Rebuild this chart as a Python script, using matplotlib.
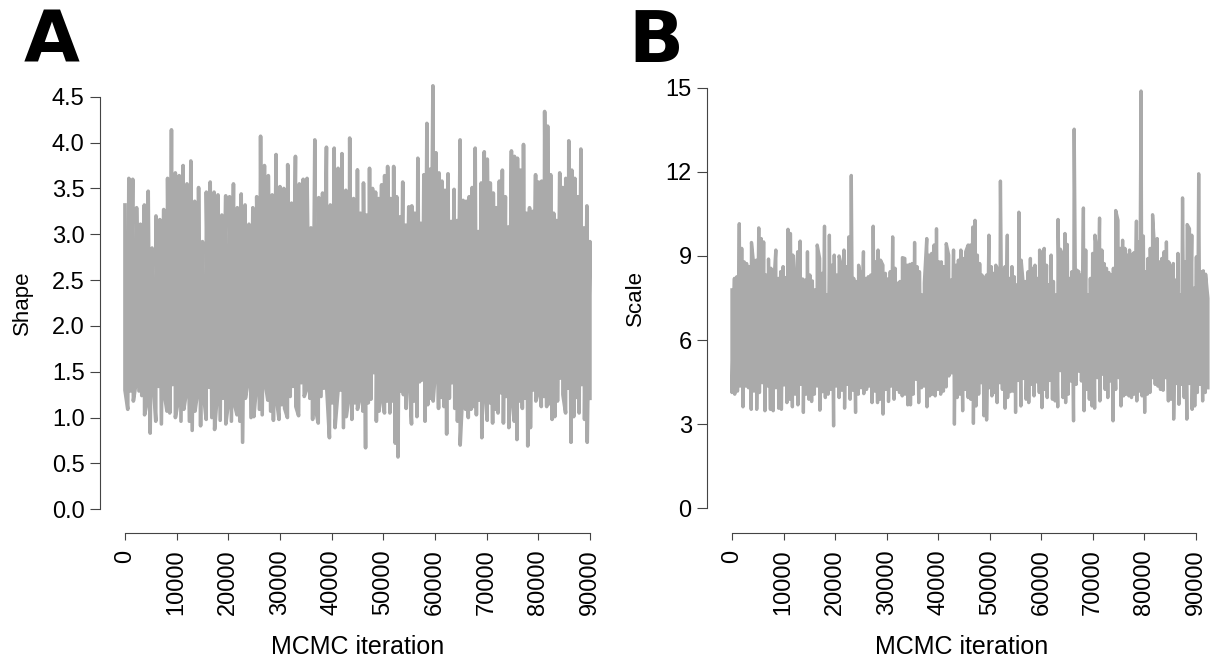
import matplotlib.pyplot as plt
import numpy as np

plt.rcParams['font.family'] = ['Liberation Sans', 'DejaVu Sans']

# Shape chain (90000 iterations): tips of the trace, first and second half
shape_top_1 = [3.32, 3.61, 3.60, 3.29, 3.11, 3.32, 3.47, 2.85, 3.20, 3.16, 3.27, 3.61, 4.14, 3.67, 3.64,
               3.75, 3.55, 3.80, 3.36, 3.51, 2.92, 3.46, 3.57, 3.46, 3.43, 3.21, 3.42, 3.41, 3.55, 3.29,
               3.44, 3.32, 3.11, 3.29, 3.41, 4.07, 3.75, 3.64, 3.43, 3.87, 3.52, 3.50, 3.76, 3.34, 3.85,
               3.55, 3.60, 3.61, 3.07, 4.03, 3.40, 3.45, 3.95, 3.32, 3.94, 3.72, 3.88, 3.48, 4.05, 3.39, 3.09]
shape_top_2 = [3.70, 3.23, 3.56, 3.21, 3.72, 3.50, 3.46, 3.39, 3.54, 3.64, 3.74, 3.39, 3.74, 3.41, 3.19,
               3.57, 3.10, 3.30, 3.31, 3.23, 3.83, 3.12, 3.65, 4.21, 3.71, 4.62, 3.89, 3.67, 3.58, 3.48,
               3.66, 3.14, 3.49, 3.15, 4.03, 3.37, 3.36, 3.41, 3.51, 3.94, 3.03, 3.56, 3.90, 3.82, 3.56,
               3.45, 3.29, 3.58, 3.70, 3.41, 3.08, 3.91, 3.85, 3.83, 3.70, 3.98, 3.23, 3.29, 3.25, 3.65,
               3.57, 3.58, 4.34, 4.18, 3.65, 3.23, 3.15, 3.67, 3.51, 3.61, 4.02, 3.70, 3.61, 3.41, 3.93,
               3.07, 3.31, 2.92]
shape_bottom_1 = [1.30, 1.09, 1.29, 1.18, 1.39, 1.29, 1.24, 1.03, 1.18, 0.83, 1.43, 0.96, 1.34, 0.93, 1.27,
                  1.07, 1.05, 1.36, 1.00, 1.18, 0.96, 1.09, 1.29, 0.96, 0.86, 1.07, 1.29, 0.91, 1.27, 0.98,
                  1.33, 1.00, 0.87, 1.27, 0.97, 1.21, 0.93, 1.18, 0.96, 1.16, 1.03, 0.96, 0.73, 1.21, 1.41,
                  1.00, 1.01, 1.36, 1.09, 1.03, 1.39, 1.19, 1.07, 0.97, 1.23, 0.98, 1.14, 1.10, 1.00, 1.23,
                  1.34, 1.12, 1.02, 1.38, 1.23, 1.32, 1.21, 0.98, 1.10, 0.94, 1.23, 1.32, 1.34, 0.78, 1.16,
                  0.89, 1.27, 1.30, 0.89, 1.01, 1.23, 0.98, 1.16, 1.12]
shape_bottom_2 = [1.09, 1.22, 1.07, 0.67, 1.16, 1.20, 1.49, 0.96, 1.07, 1.23, 1.05, 1.18, 1.05, 1.18, 0.72,
                  0.57, 1.29, 1.25, 1.10, 1.52, 0.93, 1.18, 1.01, 1.39, 1.41, 0.96, 1.14, 1.21, 1.18, 1.58,
                  1.10, 1.22, 1.12, 0.82, 1.21, 1.38, 1.10, 0.96, 0.70, 1.32, 1.09, 1.00, 1.09, 1.12, 1.03,
                  1.19, 0.78, 1.34, 0.97, 1.16, 0.94, 1.09, 1.05, 1.27, 0.94, 1.23, 0.89, 1.25, 0.96, 0.76,
                  1.18, 1.10, 1.21, 0.69, 0.89, 1.30, 1.18, 1.29, 1.12, 1.23, 1.12, 1.15, 0.98, 1.01, 1.18,
                  1.43, 1.25, 1.05, 1.32, 0.73, 1.01, 1.22, 1.05, 1.36, 0.98, 0.73, 1.21]

# Scale chain (about 92300 iterations)
scale_top_1 = [7.79, 8.20, 8.26, 10.15, 9.27, 8.79, 8.73, 8.62, 9.48, 8.62, 8.85, 10.00, 9.62, 9.50, 8.32,
               8.89, 8.56, 7.73, 9.21, 8.20, 8.44, 8.62, 8.23, 9.95, 9.80, 9.03, 7.79, 9.15, 9.53, 8.18,
               8.14, 9.15, 8.32, 8.11, 7.79, 9.39, 8.91, 8.38, 10.06, 7.61, 9.74, 8.67, 9.03, 8.32, 9.00,
               8.62, 9.21, 8.62, 9.68, 11.87, 8.20, 8.09, 8.67, 8.20, 9.15, 8.20, 8.26, 8.32, 10.06, 8.79,
               9.21, 8.85, 8.67, 8.38, 8.18, 8.44, 9.68, 8.56, 8.03, 8.09, 8.94, 8.91, 8.67, 8.70, 8.73,
               9.48, 8.62, 8.44, 7.61, 8.03, 9.62, 9.03, 9.09, 9.39, 9.97, 8.79, 8.79, 8.62, 9.44, 9.03,
               8.14, 9.21, 8.67, 8.85, 9.21, 8.91, 9.15, 9.39]
scale_top_2 = [8.79, 9.39, 10.03, 10.27, 9.03, 8.73, 8.32, 8.14, 8.32, 9.74, 8.62, 8.38, 8.67, 8.56, 11.67,
               8.32, 8.62, 9.74, 8.20, 8.62, 8.26, 7.97, 10.56, 8.85, 7.91, 8.09, 8.44, 8.91, 8.56, 8.67,
               8.20, 9.21, 9.03, 9.27, 8.67, 7.97, 9.03, 8.09, 7.61, 10.30, 9.24, 9.03, 9.80, 9.41, 8.20,
               8.44, 13.52, 8.50, 8.44, 8.32, 10.71, 9.21, 7.61, 8.20, 9.09, 9.74, 9.09, 10.35, 9.21, 8.73,
               8.56, 8.41, 8.32, 8.56, 10.62, 10.27, 9.27, 9.56, 9.27, 9.03, 9.21, 9.03, 9.12, 10.24, 9.50,
               14.88, 9.71, 8.44, 8.91, 9.27, 10.47, 9.03, 9.62, 8.79, 8.91, 9.15, 9.50, 8.79, 8.50, 8.73,
               8.14, 9.09, 7.61, 11.07, 8.79, 10.12, 9.97, 9.74, 7.85, 8.97, 11.93, 8.44, 8.47, 8.35, 7.49]
scale_bottom_1 = [4.13, 4.07, 4.18, 4.36, 3.62, 4.36, 4.30, 3.53, 4.18, 3.53, 4.13, 4.48, 3.48, 4.36, 3.53,
                  3.48, 4.30, 3.57, 3.53, 4.40, 3.77, 3.89, 3.62, 4.07, 3.69, 4.42, 3.42, 4.07, 3.89, 3.81,
                  4.07, 4.36, 3.50, 4.16, 3.95, 4.07, 4.24, 2.94, 4.36, 3.95, 4.21, 3.57, 4.42, 3.89, 4.21,
                  3.42, 4.07, 4.30, 4.09, 4.24, 4.36, 3.77, 4.18, 3.77, 3.89, 3.36, 4.24, 3.81, 4.36, 3.89,
                  4.24, 4.13, 4.01, 4.07, 3.69, 3.69, 4.07, 4.60, 3.77, 4.30, 4.36, 3.62, 4.01, 4.07, 4.01,
                  4.24, 4.07, 4.18, 4.33, 4.72, 4.83, 3.00, 3.95, 4.07, 3.48, 4.24, 3.95]
scale_bottom_2 = [3.95, 3.89, 3.03, 3.65, 4.07, 4.48, 3.30, 3.15, 4.30, 4.01, 4.13, 3.77, 4.48, 4.24, 3.57,
                  3.95, 4.16, 4.18, 3.42, 4.56, 3.65, 4.63, 3.89, 3.77, 4.42, 4.01, 4.51, 4.13, 3.59, 4.24,
                  3.95, 4.56, 3.89, 3.83, 3.62, 4.91, 3.95, 3.77, 4.07, 4.54, 3.12, 4.42, 4.89, 4.54, 3.48,
                  4.24, 3.89, 3.65, 3.57, 4.66, 3.83, 4.78, 4.24, 3.95, 4.54, 3.12, 4.24, 4.66, 3.65, 4.01,
                  4.07, 4.01, 3.95, 4.07, 3.83, 4.18, 4.01, 3.42, 4.07, 4.13, 4.66, 4.42, 4.36, 4.24, 4.21,
                  4.66, 3.83, 3.89, 3.18, 4.45, 3.71, 4.42, 3.95, 3.18, 4.45, 3.53, 3.65, 4.13, 4.42, 3.83,
                  4.13, 4.30]

iter_ticks = list(range(0, 90001, 10000))
shape_ticks = [0.0, 0.5, 1.0, 1.5, 2.0, 2.5, 3.0, 3.5, 4.0, 4.5]
scale_ticks = [0, 3, 6, 9, 12, 15]


def build_trace(tops, bottoms, split, end):
    # spread each half of the tips over its iteration range, then merge into one path
    xs, ys = [], []
    for halves in (tops, bottoms):
        for vals, (a, b) in zip(halves, [(0, split), (split, end)]):
            xs.append(np.linspace(a, b, len(vals)))
            ys.append(np.asarray(vals))
    x = np.concatenate(xs)
    y = np.concatenate(ys)
    order = np.argsort(x, kind='stable')
    return x[order], y[order]


def style_axes(ax, yticks, ylabels, ylabel):
    for side in ('top', 'right'):
        ax.spines[side].set_visible(False)
    for side in ('left', 'bottom'):
        ax.spines[side].set_color('#444444')
    ax.spines['left'].set_bounds(yticks[0], yticks[-1])
    ax.spines['bottom'].set_bounds(0, 90000)
    ax.set_xticks(iter_ticks)
    ax.set_xticklabels([str(t) for t in iter_ticks])
    ax.set_yticks(yticks)
    ax.set_yticklabels(ylabels)
    ax.tick_params(axis='both', width=0.8, color='#444444', labelsize=17)
    ax.tick_params(axis='y', length=7, pad=4)
    ax.tick_params(axis='x', length=5, pad=7, labelrotation=90)
    ax.set_xlabel('MCMC iteration', fontsize=18, labelpad=14)
    ax.set_ylabel(ylabel, fontsize=16, labelpad=14)


fig = plt.figure(figsize=(12.16, 6.57), dpi=100)
gray = '#aaaaaa'

ax1 = fig.add_axes([0.0822, 0.1887, 0.4235, 0.7002])
x, y = build_trace((shape_top_1, shape_top_2), (shape_bottom_1, shape_bottom_2), 45000, 90000)
ax1.plot(x, y, color=gray, lw=2.6)
ax1.set_xlim(-4840, 94840)
ax1.set_ylim(-0.26, 4.76)
style_axes(ax1, shape_ticks, ['%.1f' % t for t in shape_ticks], 'Shape')

ax2 = fig.add_axes([0.5814, 0.1887, 0.4186, 0.7154])
x, y = build_trace((scale_top_1, scale_top_2), (scale_bottom_1, scale_bottom_2), 45800, 92300)
ax2.plot(x, y, color=gray, lw=2.4)
ax2.set_xlim(-4850, 93870)
ax2.set_ylim(-0.88, 15.88)
style_axes(ax2, scale_ticks, [str(t) for t in scale_ticks], 'Scale')

fig.text(24 / 1216, 1 - 62 / 657, 'A', fontsize=52, fontweight='bold', family=['DejaVu Sans'])
fig.text(628 / 1216, 1 - 62 / 657, 'B', fontsize=52, fontweight='bold', family=['DejaVu Sans'])

fig.savefig('out.png', dpi=100)
